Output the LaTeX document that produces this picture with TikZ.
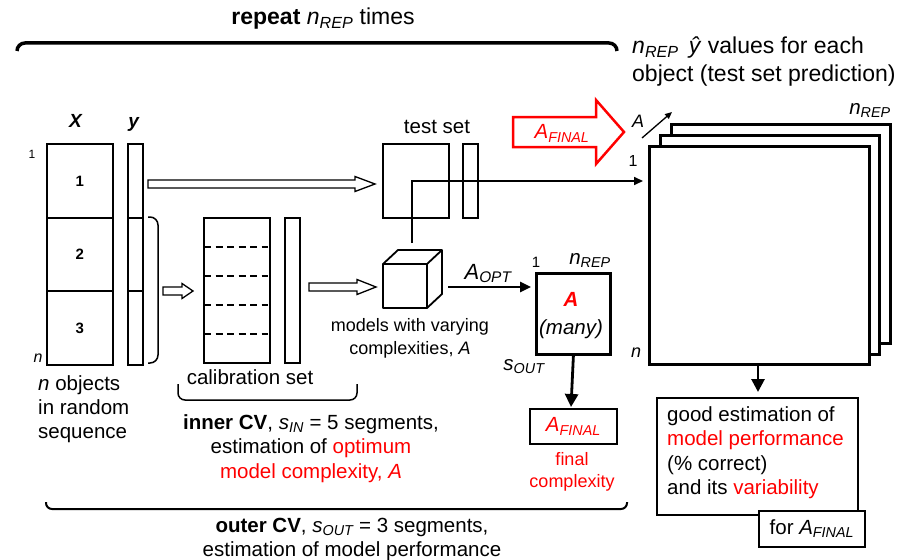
\documentclass[tikz,border=0pt]{standalone}
\usepackage{fontspec}
\setmainfont{Liberation Sans}
\usetikzlibrary{arrows.meta}
\newcommand\mysub[1]{\textsubscript{\itshape #1}}
\newcommand\nrep{\textit{n}\mysub{REP}}
\newcommand\afin{\textit{A}\mysub{FINAL}}
\definecolor{myred}{RGB}{255,0,0}
\tikzset{
  fs/.style={font=\fontsize{#1}{24.5}\selectfont},
  t/.style={inner sep=0pt, fs=20.5},
  box/.style={draw, line width=1.8pt, fill=white, inner sep=0pt, anchor=north west},
  thickbox/.style={box, line width=2.8pt},
  hollow/.style={draw, line width=1.3pt, fill=white, line join=miter},
  brace/.style={line width=2pt, rounded corners=7pt},
  conn/.style={line width=1.6pt, -{Triangle[length=9pt,width=8pt]}},
  bigconn/.style={line width=2.8pt, -{Triangle[length=13pt,width=13pt]}},
}
\begin{document}
\begin{tikzpicture}[x=1pt,y=-1pt]
\useasboundingbox (0,0) rectangle (917,559);

% top brace and title
\draw[brace, line width=3.5pt, rounded corners=8pt] (17,51) -- (17,43) -- (617,43) -- (617,51);
\node[t, fs=23, anchor=base] (rep) at (323,25) {\textbf{repeat} \nrep{} times};
\node[t, fs=23, anchor=base west] (yv1) at (632,54) {\nrep{}\, \textit{ŷ} values for each};
\node[t, fs=23, anchor=base west] (yv2) at (632,82) {object (test set prediction)};

% X matrix and y
\node[t, fs=19, anchor=base] (Xl) at (76,128) {\textbf{\textit{X}}};
\node[t, fs=19, anchor=base] (yl) at (134,128) {\textbf{\textit{y}}};
\node[t, fs=12, anchor=base] (one) at (32,158) {1};
\node[t, fs=16, anchor=base] (nn) at (38,362) {\textit{n}};
\node[box, minimum width=66pt, minimum height=74pt] (X1) at (46,143) {};
\node[box, minimum width=66pt, minimum height=73pt] (X2) at (46,217) {};
\node[box, minimum width=66pt, minimum height=74pt] (X3) at (46,290) {};
\node[t, fs=15] at (X1.center) {\textbf{1}};
\node[t, fs=15] at (X2.center) {\textbf{2}};
\node[t, fs=15] at (X3.center) {\textbf{3}};
\node[box, minimum width=15pt, minimum height=74pt] (y1) at (127,143) {};
\node[box, minimum width=15pt, minimum height=73pt] (y2) at (127,217) {};
\node[box, minimum width=15pt, minimum height=74pt] (y3) at (127,290) {};
\draw[line width=1.5pt, rounded corners=8pt] (148,217) -- (158,217) -- (158,363) -- (148,363);

\node[t, anchor=base west] (nobj1) at (38,390) {\textit{n} objects};
\node[t, anchor=base west] (nobj2) at (38,414) {in random};
\node[t, anchor=base west] (nobj3) at (38,438) {sequence};

% hollow arrow to test set
\draw[hollow] (148,180) -- (355,180) -- (355,176.5) -- (375,184) -- (355,191.5) -- (355,188) -- (148,188) -- cycle;
% hollow arrow to calibration
\draw[hollow] (163,287) -- (182,287) -- (182,283.5) -- (193,291) -- (182,298.5) -- (182,295) -- (163,295) -- cycle;

% calibration set
\node[box, minimum width=66pt, minimum height=145pt] (cal) at (203,217) {};
\foreach \yy in {247,276,305,334}
  \draw[line width=1.3pt, dash pattern=on 7pt off 4.5pt] (204,\yy) -- (268,\yy);
\node[box, minimum width=15pt, minimum height=145pt] (caly) at (284,217) {};
\node[t, anchor=base] (calt) at (250,384) {calibration set};
\draw[line width=1.5pt, rounded corners=7pt] (178,384) -- (178,400) -- (357,400) -- (357,384);

\node[t, anchor=base] (in1) at (311,429) {\textbf{inner CV}, \textit{s}\mysub{IN} = 5 segments,};
\node[t, anchor=base] (in2) at (311,453) {estimation of \textcolor{myred}{optimum}};
\node[t, anchor=base] (in3) at (311,478) {\textcolor{myred}{model complexity, \textit{A}}};

% hollow arrow to cube
\draw[hollow] (309,283) -- (357,283) -- (357,279.5) -- (376,287) -- (357,294.5) -- (357,291) -- (309,291) -- cycle;

% test set
\node[t, anchor=base] (tst) at (437,133) {test set};
\node[box, minimum width=66pt, minimum height=74pt] (TX) at (382,143) {};
\node[box, minimum width=15pt, minimum height=74pt] (Ty) at (462,143) {};

% cube
\draw[line width=1.8pt, line join=round, fill=white] (383,264) -- (398,250) -- (442,250) -- (442,294) -- (427,308) -- (383,308) -- cycle;
\draw[line width=1.8pt, line join=round] (383,264) -- (427,264) -- (442,250) (427,264) -- (427,308);
\node[t, fs=18, anchor=base] (mod1) at (410,331) {models with varying};
\node[t, fs=18, anchor=base] (mod2) at (410,354) {complexities, \textit{A}};

% connector from cube to stack
\coordinate (cubetop) at (412,243);
\coordinate (stackin) at (643,181);
\draw[conn] (cubetop) |- (stackin);

% A_OPT
\coordinate (aoptS) at (448,287);
\coordinate (aoptE) at (531,287);
\draw[bigconn, line width=2.5pt, -{Triangle[length=11pt,width=10pt]}] (aoptS) -- (aoptE);
\node[t, fs=22, anchor=base] (aopt) at (488,279) {\textit{A}\mysub{OPT}};

% A box
\node[thickbox, minimum width=74pt, minimum height=81pt] (Abox) at (535,272) {};
\node[t, fs=15, anchor=base] (a1) at (536,267) {1};
\node[t, anchor=base] (anrep) at (590,264) {\nrep};
\node[t, anchor=base, text=myred] (Ared) at (571,306) {\textbf{\textit{A}}};
\node[t, anchor=base] (many) at (571,334) {\textit{(many)}};
\node[t, anchor=base] (sout) at (524,370) {\textit{s}\mysub{OUT}};
\coordinate (adown) at (571,407);
\draw[bigconn] (Abox.south) -- (adown);

% A_FINAL box
\node[box, minimum width=87pt, minimum height=35pt] (Afin) at (529,408) {};
\node[t, text=myred] at (Afin.center) {\afin};
\node[t, fs=18, anchor=base, text=myred] (fc1) at (572,465) {final};
\node[t, fs=18, anchor=base, text=myred] (fc2) at (572,487) {complexity};

% bottom brace
\draw[line width=2pt, rounded corners=6pt] (46,502) -- (46,509) -- (627,509) -- (627,502);
\node[t, anchor=base] (out1) at (352,532) {\textbf{outer CV}, \textit{s}\mysub{OUT} = 3 segments,};
\node[t, anchor=base] (out2) at (352,556) {estimation of model performance};

% big red arrow
\draw[myred, line width=2.5pt, fill=white, line join=miter] (513,117) -- (596,117) -- (596,100) -- (624,132) -- (596,164) -- (596,147) -- (513,147) -- cycle;
\node[t, text=myred, anchor=base] (rA) at (562,139) {\afin};

% stack
\node[t, fs=18, anchor=base] (Alab) at (638,128) {\textit{A}};
\coordinate (sa1) at (642,138);
\coordinate (sa2) at (672,112);
\draw[line width=1.3pt, -{Triangle[length=7pt,width=6pt]}] (sa1) -- (sa2);
\node[t, anchor=base] (snrep) at (870,114) {\nrep};
\node[thickbox, minimum width=219pt, minimum height=219pt] (S3) at (670,123) {};
\node[thickbox, minimum width=219pt, minimum height=219pt] (S2) at (659,134) {};
\node[thickbox, minimum width=220pt, minimum height=218pt] (S1) at (648,145) {};
\node[t, fs=16, anchor=base] (s1) at (633,166) {1};
\node[t, fs=18, anchor=base] (sn) at (636,357) {\textit{n}};
\coordinate (sdown) at (758,392);
\draw[bigconn] (758,363) -- (sdown);

% result box
\node[box, minimum width=201pt, minimum height=117pt] (res) at (656,397) {};
\node[t, anchor=north west, align=left] (restext) at (667,406) {good estimation of\\
\textcolor{myred}{model performance}\\
(\% correct)\\
and its \textcolor{myred}{variability}};
\node[box, minimum width=106pt, minimum height=36pt] (forA) at (758,510) {};
\node[t] at (forA.center) {for \afin};
\end{tikzpicture}
\end{document}
